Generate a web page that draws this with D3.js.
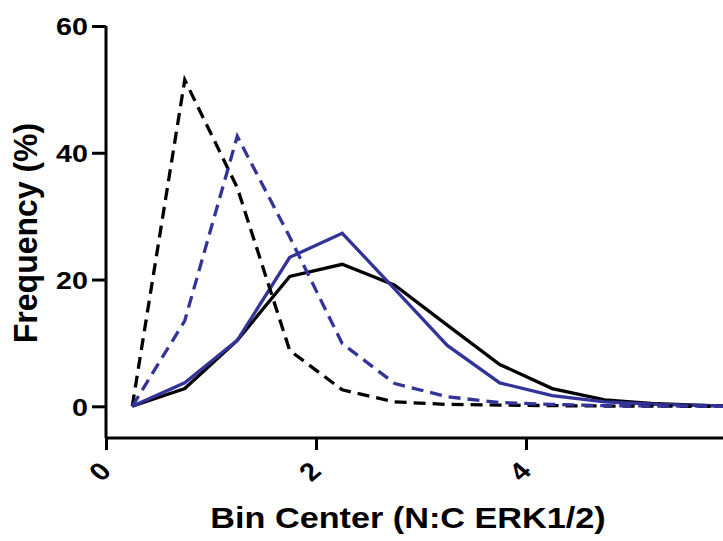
<!DOCTYPE html>
<html>
<head>
<meta charset="utf-8">
<script src="https://cdn.jsdelivr.net/npm/d3@7"></script>
<style>
  body { margin: 0; background: #fff; }
  svg { display: block; }
  text { font-family: "Liberation Sans", Arial, sans-serif; font-weight: bold; fill: #000; }
</style>
</head>
<body>
<div id="chart"></div>
<script>
// bin centers (N:C ERK1/2 ratio)
const binCenters = [0.25, 0.75, 1.25, 1.75, 2.25, 2.75, 3.25, 3.75, 4.25, 4.75, 5.25, 5.75, 6.25];

// frequency (%) per series
const blackSolid  = [0, 2.8, 10.4, 20.5, 22.4, 19.1, 12.8, 6.6, 2.8, 1.0, 0.4, 0.1, 0];
const blueSolid   = [0, 3.7, 10.4, 23.5, 27.3, 18.5, 9.6, 3.7, 1.7, 0.7, 0.3, 0.1, 0];
const blackDashed = [0, 51.5, 34.5, 8.8, 2.6, 0.7, 0.3, 0.2, 0.1, 0.05, 0.02, 0, 0];
const blueDashed  = [0, 13.5, 42.6, 26.7, 9.9, 3.6, 1.5, 0.6, 0.3, 0.1, 0.05, 0, 0];

const yTicks = [0, 20, 40, 60];
const xTicks = [0, 2, 4];

const series = [
    { values: blackSolid,  color: '#000000', dash: null },
    { values: blueSolid,   color: '#333399', dash: null },
    { values: blackDashed, color: '#000000', dash: '12,7' },
    { values: blueDashed,  color: '#333399', dash: '12,7' }
];

const width = 723, height = 541;
const stretch = 1.17; // the original type is a little wide

const svg = d3.select('#chart')
    .append('svg')
    .attr('width', width)
    .attr('height', height);

// plot frame: y axis at x=106, x axis at y=438
const x = d3.scaleLinear().domain([0, 6]).range([106, 736]);
const y = d3.scaleLinear().domain([-5, 60]).range([438, 26]);

// lines
const line = d3.line()
    .x((d, i) => x(binCenters[i]))
    .y(d => y(d));

svg.append('g')
    .selectAll('path')
    .data(series)
    .enter().append('path')
    .attr('d', d => line(d.values))
    .attr('fill', 'none')
    .attr('stroke', d => d.color)
    .attr('stroke-width', 3.3)
    .attr('stroke-linejoin', 'miter')
    .attr('stroke-dasharray', d => d.dash);

// y axis
const yAxis = svg.append('g')
    .attr('transform', `translate(${x(0)},0)`)
    .call(d3.axisLeft(y).tickValues(yTicks).tickFormat(d3.format('d')).tickSize(14).tickPadding(4).tickSizeOuter(0));

yAxis.select('.domain')
    .attr('stroke', '#000')
    .attr('stroke-width', 3)
    .attr('d', `M0,${y(60)}V${y(-5)}`);
yAxis.selectAll('.tick line').attr('stroke', '#000').attr('stroke-width', 3);
yAxis.selectAll('.tick text')
    .style('font-size', '24.5px')
    .attr('x', 0)
    .attr('dy', '0.36em')
    .attr('transform', `translate(-18,0) scale(${stretch},1)`);

// x axis
const xAxis = svg.append('g')
    .attr('transform', `translate(0,${y(-5)})`)
    .call(d3.axisBottom(x).tickValues(xTicks).tickFormat(d3.format('d')).tickSize(12).tickSizeOuter(0));

xAxis.select('.domain')
    .attr('stroke', '#000')
    .attr('stroke-width', 3)
    .attr('d', `M${x(0)},0H${x(6)}`);
xAxis.selectAll('.tick line').attr('stroke', '#000').attr('stroke-width', 3);
xAxis.selectAll('.tick text')
    .style('font-size', '25px')
    .attr('text-anchor', 'middle')
    .attr('dy', null)
    .attr('y', 0)
    .attr('transform', `translate(-5,35) scale(${stretch},1) rotate(-45)`)
    .attr('dominant-baseline', 'middle');

// axis titles
svg.append('text')
    .attr('transform', `translate(408,528) scale(1.18,1)`)
    .attr('text-anchor', 'middle')
    .style('font-size', '29px')
    .text('Bin Center (N:C ERK1/2)');

svg.append('text')
    .attr('transform', `translate(37,233) scale(1.04,1) rotate(-90)`)
    .attr('text-anchor', 'middle')
    .style('font-size', '32px')
    .text('Frequency (%)');
</script>
</body>
</html>
